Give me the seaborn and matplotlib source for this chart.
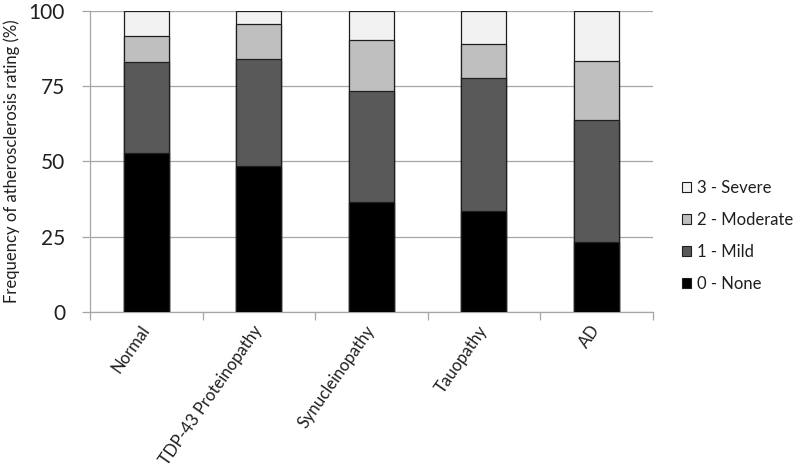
import numpy as np
import pandas as pd
import seaborn as sns
import matplotlib.pyplot as plt
from matplotlib.patches import Patch

# data (% of cases per rating)
categories = ['Normal', 'TDP-43 Proteinopathy', 'Synucleinopathy', 'Tauopathy', 'AD']
none_pct = [52.7, 48.5, 36.6, 33.5, 23.1]
mild_pct = [30.3, 35.5, 36.9, 44.2, 40.7]
moderate_pct = [8.6, 11.6, 17.0, 11.3, 19.5]
severe_pct = [8.4, 4.4, 9.5, 11.0, 16.7]

ratings = ['0 - None', '1 - Mild', '2 - Moderate', '3 - Severe']
colors = ['#000000', '#595959', '#bfbfbf', '#f2f2f2']

df = pd.DataFrame({
    'group': categories,
    ratings[0]: none_pct,
    ratings[1]: mild_pct,
    ratings[2]: moderate_pct,
    ratings[3]: severe_pct,
})
# cumulative tops for stacking
cum = df[ratings].cumsum(axis=1)

sns.set_theme(style='white')
plt.rcParams['font.family'] = ['Lato', 'DejaVu Sans']

fig = plt.figure(figsize=(8, 4.7), dpi=100)
ax = fig.add_axes([0.1125, 0.3368, 0.7034, 0.6398])

# draw tallest layer first so the lower layers sit on top
for r, c in zip(ratings[::-1], colors[::-1]):
    sns.barplot(x=df['group'], y=cum[r], color=c, edgecolor='#1f1f1f',
                linewidth=0.9, width=0.4, ax=ax, zorder=3)

ax.set_ylim(0, 100)
ax.set_xlim(-0.5, len(categories) - 0.5)
ax.set_yticks([0, 25, 50, 75, 100])
ax.yaxis.grid(True, color='#a6a6a6', linewidth=0.9, zorder=0)
ax.set_axisbelow(True)

for s in ['top', 'right']:
    ax.spines[s].set_visible(False)
for s in ['left', 'bottom']:
    ax.spines[s].set_color('#a6a6a6')
    ax.spines[s].set_linewidth(0.9)

# category tick marks sit between bars
ax.set_xticks(np.arange(-0.5, len(categories)), minor=True)
ax.tick_params(axis='x', which='minor', length=6, color='#a6a6a6', width=0.9, bottom=True)
ax.tick_params(axis='x', which='major', length=0, pad=11)
ax.tick_params(axis='y', length=6, color='#a6a6a6', width=0.9, left=True,
               labelsize=15, labelcolor='#1f1f1f', pad=12)

ax.set_xticks(range(len(categories)))
ax.set_xticklabels(categories, rotation=55, ha='right', va='center',
                   rotation_mode='anchor', fontsize=12, color='#1f1f1f')
ax.set_xlabel('')
ax.set_ylabel('Frequency of atherosclerosis rating (%)', fontsize=12,
              color='#1f1f1f')
ax.yaxis.set_label_coords(-0.124, 0.5)

handles = [Patch(facecolor=c, edgecolor='#1f1f1f', linewidth=0.8, label=r)
           for r, c in zip(ratings[::-1], colors[::-1])]
fig.legend(handles=handles, loc='center left', bbox_to_anchor=(0.852, 0.498),
           frameon=False, fontsize=12, borderpad=0, borderaxespad=0,
           handlelength=0.55, handleheight=0.55, handletextpad=0.4,
           labelspacing=0.95, labelcolor='#1f1f1f')

fig.savefig('out.png', dpi=100)
